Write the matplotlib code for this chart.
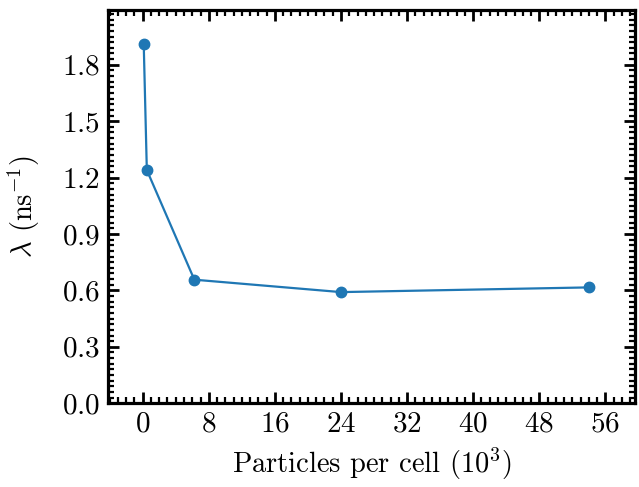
import numpy as np
import matplotlib
matplotlib.use('Agg')
import matplotlib.pyplot as plt
from matplotlib.ticker import MultipleLocator

# particles per cell (thousands) and decay rate lambda (1/ns)
ppc = [0.125, 0.5, 6.25, 24, 54]
lam = [1.91, 1.24, 0.657, 0.591, 0.616]

plt.rcParams['font.family'] = 'serif'
plt.rcParams['font.serif'] = ['cmr10']
plt.rcParams['mathtext.fontset'] = 'cm'
plt.rcParams['axes.formatter.use_mathtext'] = True
plt.rcParams['font.size'] = 15

fig, ax = plt.subplots(figsize=(6.39, 4.87), dpi=100)
ax.plot(ppc, lam, '-o', color='#1f77b4', lw=1.6, ms=7.5)

ax.set_xlim(-4.2, 59.6)
ax.set_ylim(0, 2.09)
ax.xaxis.set_major_locator(MultipleLocator(8))
ax.xaxis.set_minor_locator(MultipleLocator(1))
ax.yaxis.set_major_locator(MultipleLocator(0.3))
ax.yaxis.set_minor_locator(MultipleLocator(0.03))
ax.yaxis.set_major_formatter(matplotlib.ticker.FormatStrFormatter('$%.1f$'))
ax.xaxis.set_major_formatter(matplotlib.ticker.FormatStrFormatter('$%d$'))

ax.tick_params(which='both', direction='in', top=True, right=True, labelsize=21)
ax.tick_params(which='major', length=8, width=2, pad=6)
ax.tick_params(which='minor', length=4, width=1.6)
for s in ax.spines.values():
  s.set_linewidth(2.3)

ax.set_xlabel('Particles per cell ($10^3$)', fontsize=20.5, labelpad=6)
ax.set_ylabel(r'$\lambda$ (ns$^{-1}$)', fontsize=20.5, labelpad=14)

fig.subplots_adjust(left=0.169, right=0.994, bottom=0.172, top=0.979)
fig.savefig('out.png', dpi=100)
